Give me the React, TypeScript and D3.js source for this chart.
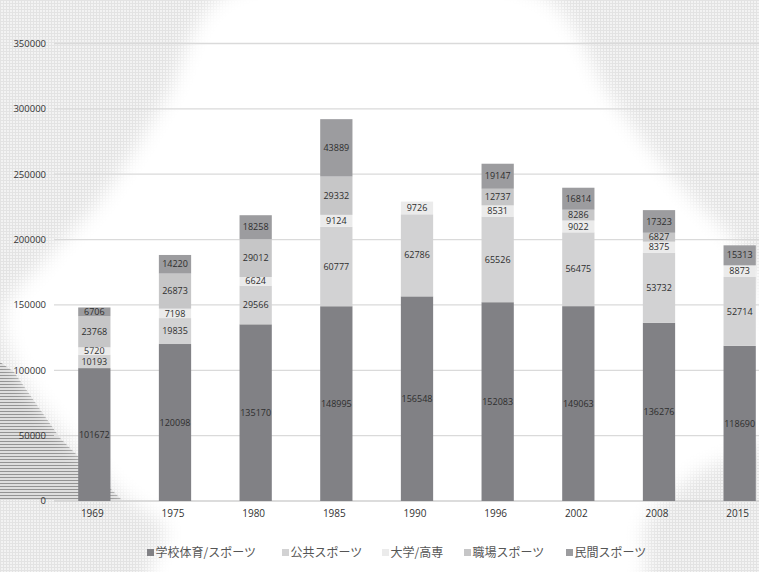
import React from "react";
import * as d3 from "d3";

const years = ["1969", "1975", "1980", "1985", "1990", "1996", "2002", "2008", "2015"];
const seriesNames = ["学校体育/スポーツ", "公共スポーツ", "大学/高専", "職場スポーツ", "民間スポーツ"];
const school = [101672, 120098, 135170, 148995, 156548, 152083, 149063, 136276, 118690];
const publicSp = [10193, 19835, 29566, 60777, 62786, 65526, 56475, 53732, 52714];
const univ = [5720, 7198, 6624, 9124, 9726, 8531, 9022, 8375, 8873];
const workplace = [23768, 26873, 29012, 29332, 0, 12737, 8286, 6827, 0];
const privateSp = [6706, 14220, 18258, 43889, 0, 19147, 16814, 17323, 15313];
const yTicks = [0, 50000, 100000, 150000, 200000, 250000, 300000, 350000];
const colors = ["#818185", "#d2d2d3", "#ebebeb", "#c6c6c7", "#9c9c9f"];

const W = 759;
const H = 572;

export default function App() {
  const series = [school, publicSp, univ, workplace, privateSp];
  const rows = years.map((y, i) => {
    const r: any = { year: y };
    seriesNames.forEach((n, k) => (r[n] = series[k][i]));
    return r;
  });
  const stacked = d3.stack<any>().keys(seriesNames)(rows);

  const x = d3.scaleBand<string>().domain(years).range([54, 780]).paddingInner(0.6).paddingOuter(0.3);
  const y = d3.scaleLinear().domain([0, 350000]).range([501, 43.5]);

  const whitePts: [number, number][] = [
    [225, -5], [540, -5], [613, 100], [680, 185], [745, 255], [775, 330], [775, 430],
    [690, 478], [645, 525], [640, 585], [150, 585], [165, 530], [120, 492], [20, 372],
    [5, 310], [45, 260], [100, 200], [165, 100],
  ];
  const whitePath = d3.line().curve(d3.curveCatmullRomClosed.alpha(0.5))(whitePts) || "";
  const stripePts: [number, number][] = [[0, 362], [14, 372], [60, 438], [122, 500], [0, 500]];
  const stripePath = d3.line()(stripePts) + "Z";

  const legendX = [147, 282, 382, 464, 566];
  const numFont = "'Open Sans', 'Noto Sans CJK JP', sans-serif";

  return (
    <svg width={W} height={H} style={{ position: "absolute", left: 0, top: 0 }}>
      <defs>
        <pattern id="dots" width="3" height="3" patternUnits="userSpaceOnUse">
          <rect width="3" height="3" fill="#f3f3f3" />
          <rect width="3" height="1" fill="#e3e3e3" />
          <rect width="1" height="3" fill="#e3e3e3" />
        </pattern>
        <pattern id="stripes" width="3" height="3" patternUnits="userSpaceOnUse">
          <rect width="3" height="3" fill="#dedede" />
          <rect width="3" height="1" fill="#939393" />
        </pattern>
        <filter id="blur" x="-10%" y="-10%" width="120%" height="120%">
          <feGaussianBlur stdDeviation="9" />
        </filter>
      </defs>
      <rect width={W} height={H} fill="url(#dots)" />
      <path d={stripePath} fill="url(#stripes)" />
      <path d={whitePath} fill="#ffffff" filter="url(#blur)" />

      {yTicks.map((t) => (
        <g key={t}>
          <line x1={54} x2={W} y1={y(t)} y2={y(t)} stroke={t === 0 ? "#d0d0d0" : "#dadada"} strokeWidth={1.3} />
          <text x={46} y={y(t)} dy="0.35em" textAnchor="end" fontSize={9.5} fill="#333" fontFamily={numFont}>
            {t}
          </text>
        </g>
      ))}

      {stacked.map((s, k) => (
        <g key={s.key}>
          {s.map((d, i) => {
            const v = d[1] - d[0];
            if (v <= 0) return null;
            const x0 = x(years[i]) as number;
            return (
              <g key={i}>
                <rect x={x0} y={y(d[1])} width={x.bandwidth()} height={y(d[0]) - y(d[1])} fill={colors[k]} />
                <text
                  x={x0 + x.bandwidth() / 2}
                  y={(y(d[0]) + y(d[1])) / 2}
                  dy="0.35em"
                  textAnchor="middle"
                  fontSize={9}
                  fill="#2e2e2e"
                  fontFamily={numFont}
                >
                  {v}
                </text>
              </g>
            );
          })}
        </g>
      ))}

      {years.map((yr) => (
        <text
          key={yr}
          x={(x(yr) as number) + x.bandwidth() / 2 - 2}
          y={513}
          dy="0.35em"
          textAnchor="middle"
          fontSize={10}
          fill="#333"
          fontFamily={numFont}
        >
          {yr}
        </text>
      ))}

      {seriesNames.map((n, k) => (
        <g key={n} transform={`translate(${legendX[k]},553)`}>
          <rect x={0} y={-4} width={7} height={7} fill={colors[k]} />
          <text x={8.5} y={0} dy="0.35em" fontSize={12} fill="#555" fontFamily="'Noto Sans CJK JP', sans-serif">
            {n}
          </text>
        </g>
      ))}
    </svg>
  );
}
